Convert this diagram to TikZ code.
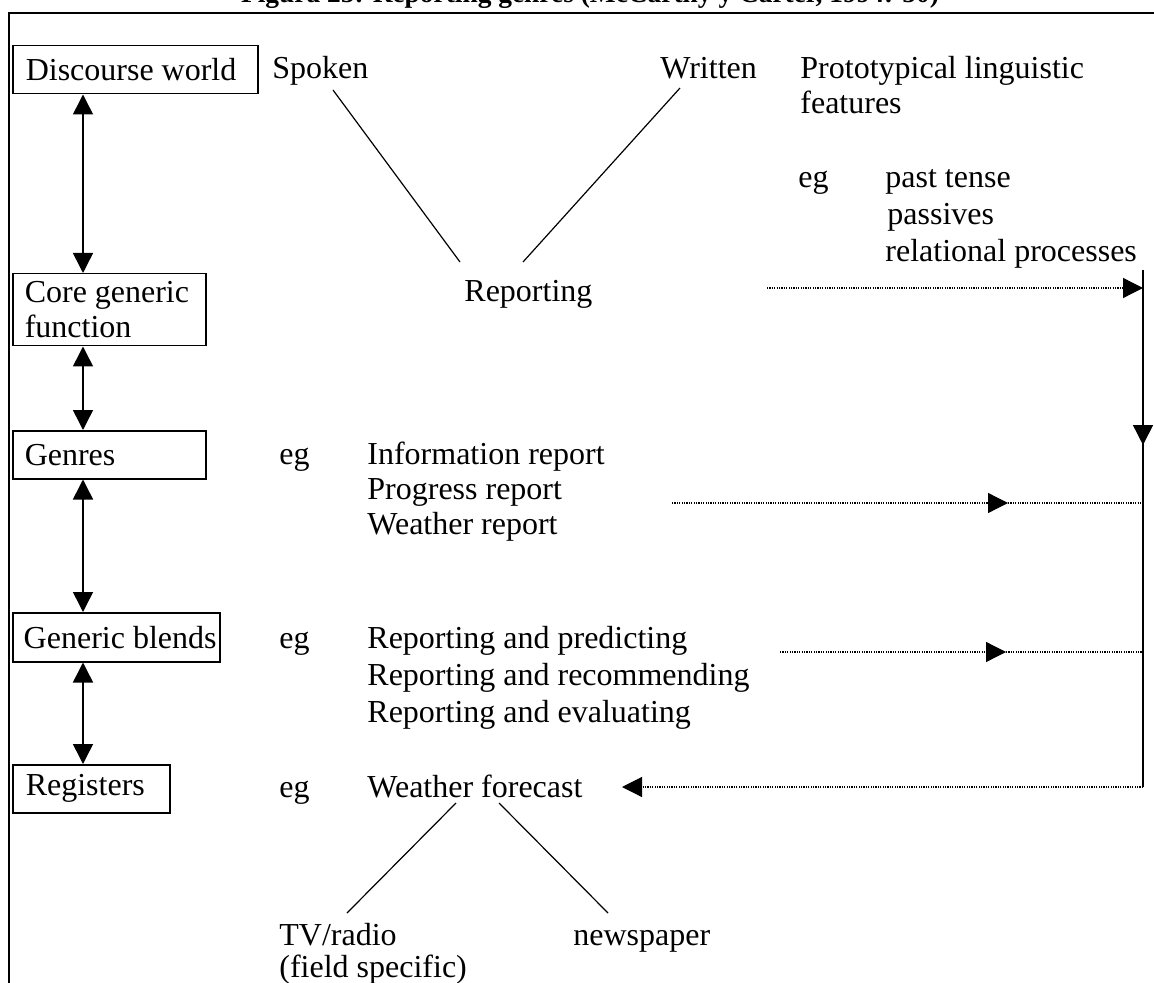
\documentclass[tikz,border=0pt]{standalone}
\usepackage{fontspec}
\setmainfont{Liberation Serif}
\usetikzlibrary{arrows.meta}
\begin{document}
\begin{tikzpicture}[x=0.5pt, y=-0.5pt,
  every node/.style={font=\fontsize{16pt}{17.5pt}\selectfont, inner sep=0pt},
  txt/.style={anchor=base west},
  box/.style={draw, line width=0.75pt, anchor=north west, align=flush left, inner xsep=0pt, inner ysep=0pt},
  frameline/.style={line width=1.25pt},
  tri/.tip={Triangle[length=10pt,width=10pt]},
  vlink/.style={line width=0.75pt, tri-tri},
  tree/.style={line width=0.6pt},
  dotline/.style={line width=0.6pt, dash pattern=on 0.6pt off 0.6pt},
  tipend/.style={-tri},
]
\useasboundingbox (0,0) rectangle (1154,983);
\clip (0,0) rectangle (1154,983);
\fill[white] (0,0) rectangle (1154,983);

% title (cut at the top)
\node[font=\bfseries\fontsize{13.7pt}{15pt}\selectfont, anchor=base] (title) at (590,3)
  {Figura 25: Reporting genres (McCarthy y Carter, 1994: 50)};

% frame
\draw[frameline] (9,983) -- (9,13) -- (1154,13);

% boxes
\node[box, text width=122.5pt, minimum height=24pt] (dw) at (12,45) {\hspace*{6.5pt}Discourse world};
\node[box, text width=96.5pt, minimum height=36pt] (core) at (12,273) {\hspace*{6pt}Core generic\\\hspace*{6pt}function};
\node[box, text width=96.5pt, minimum height=24pt] (gen) at (12,430) {\hspace*{6pt}Genres};
\node[box, text width=103.5pt, minimum height=24.5pt] (blend) at (12,612) {\hspace*{5.5pt}Generic blends};
\node[box, text width=78.5pt, minimum height=24pt] (reg) at (12,764) {\hspace*{6.5pt}Registers};

\coordinate (ax) at (83,0);
\draw[vlink] (ax |- dw.south) -- (ax |- core.north);
\draw[vlink] (ax |- core.south) -- (ax |- gen.north);
\draw[vlink] (ax |- gen.south) -- (ax |- blend.north);
\draw[vlink] (ax |- blend.south) -- (ax |- reg.north);

% row 1
\node[txt] (spoken) at (272,79) {Spoken};
\node[txt] (written) at (660,79) {Written};
\node[txt] (proto1) at (800,79) {Prototypical linguistic};
\node[txt] (proto2) at (800,114) {features};
\node[txt] (eg1) at (798,188) {eg};
\node[txt] (f1) at (885,188) {past tense};
\node[txt] (f2) at (887,225) {passives};
\node[txt] (f3) at (885,262) {relational processes};

% row 2
\node[txt] (rep) at (464,302) {Reporting};
\draw[tree] ([shift={(30.5pt,-5.5pt)}]spoken.base west) -- ([shift={(-2pt,20pt)}]rep.base west);
\draw[tree] ([shift={(10pt,-4.5pt)}]written.base west) -- ([shift={(29.5pt,20pt)}]rep.base west);

% row 3
\node[txt] (eg2) at (279,464) {eg};
\node[txt] (g1) at (367,464) {Information report};
\node[txt] (g2) at (367,499) {Progress report};
\node[txt] (g3) at (367,534) {Weather report};

% row 4
\node[txt] (eg3) at (279,648) {eg};
\node[txt] (b1) at (367,648) {Reporting and predicting};
\node[txt] (b2) at (367,685) {Reporting and recommending};
\node[txt] (b3) at (367,722) {Reporting and evaluating};

% row 5
\node[txt] (eg4) at (279,797) {eg};
\node[txt] (wf) at (367,797) {Weather forecast};

% row 6
\node[txt] (tv) at (279,945) {TV/radio};
\node[txt] (fs) at (279,977) {(field specific)};
\node[txt] (np) at (573,945) {newspaper};
\draw[tree] ([shift={(44.5pt,-3pt)}]wf.base west) -- ([shift={(34pt,16pt)}]tv.base west);
\draw[tree] ([shift={(66pt,-3pt)}]wf.base west) -- ([shift={(17.5pt,16pt)}]np.base west);

% right-hand feedback line
\coordinate (vtop) at (1143,270);
\coordinate (vmid) at (1143,445);
\coordinate (vbot) at (1143,787);
\draw[line width=0.75pt] (vtop) -- (vbot);
\draw[line width=0.75pt, tipend] (vtop) -- (vmid);

\coordinate (d1s) at (767,288);
\draw[dotline, tipend] (d1s) -- (vtop |- d1s);

\coordinate (d2s) at (672,503);
\coordinate (d2m) at (1008,503);
\draw[dotline, tipend] (d2s) -- (d2m);
\draw[dotline] (d2m) -- (vtop |- d2m);

\coordinate (d3s) at (780,652);
\coordinate (d3m) at (1006,652);
\draw[dotline, tipend] (d3s) -- (d3m);
\draw[dotline] (d3m) -- (vtop |- d3m);

\coordinate (d4e) at (622,787);
\draw[dotline, tipend] (vbot) -- (d4e);
\end{tikzpicture}
\end{document}
